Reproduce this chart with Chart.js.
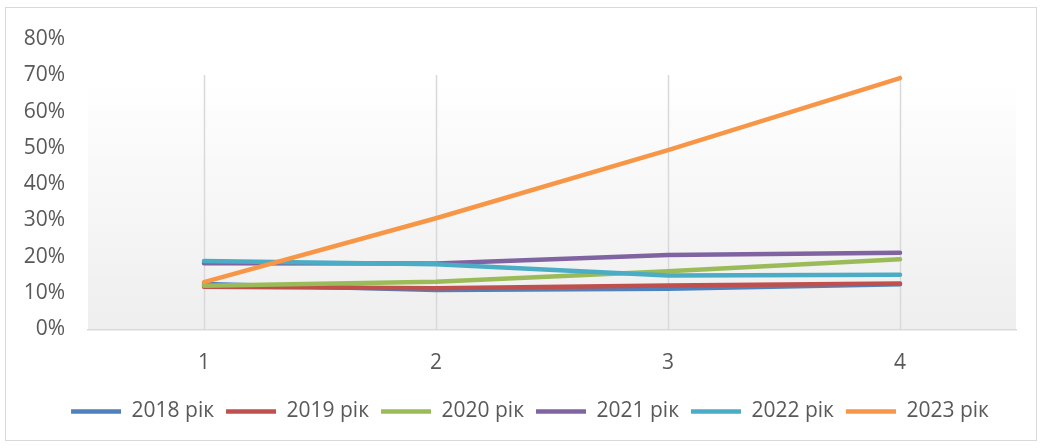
<!DOCTYPE html>
<html lang="uk">
<head>
<meta charset="utf-8">
<title>Динаміка показника, 2018–2023 рр.</title>
<script src="https://cdn.jsdelivr.net/npm/chart.js@4.4.1/dist/chart.umd.min.js"></script>
<style>
  html, body { margin: 0; padding: 0; background: #ffffff; }
  body { width: 1043px; height: 448px; position: relative; overflow: hidden; }
  #frame {
    position: absolute; left: 5px; top: 7px; width: 1030px; height: 432px;
    border: 1px solid #d9d9d9;
  }
  #wrap { position: absolute; left: 0; top: 0; width: 1043px; height: 448px; }
</style>
</head>
<body>
<div id="frame"></div>
<div id="wrap"><canvas id="chart"></canvas></div>
<script>
// Quarter / period labels on the horizontal axis
const categories = ['1', '2', '3', '4'];

// Share, % — one series per year
const y2018 = [12.5, 10.8, 11.2, 12.4];
const y2019 = [11.7, 11.3, 12.1, 12.6];
const y2020 = [12.0, 13.1, 16.0, 19.3];
const y2021 = [18.2, 18.1, 20.5, 21.1];
const y2022 = [18.8, 17.9, 14.8, 15.0];
const y2023 = [13.0, 30.6, 49.4, 69.2];

const seriesNames = ['2018 рік', '2019 рік', '2020 рік', '2021 рік', '2022 рік', '2023 рік'];
const seriesValues = [y2018, y2019, y2020, y2021, y2022, y2023];
const seriesColors = ['#4F81BD', '#C0504D', '#9BBB59', '#8064A2', '#4BACC6', '#F79646'];

// Y axis range and step, %
const yMin = 0, yMax = 80, yStep = 10;

const FONT = '"Open Sans", "Noto Sans", sans-serif';
const TEXT = '#595959';
const GRID = '#d9d9d9';
const PLOT_TOP = 75;      // top edge of the shaded plot panel, px
const LEGEND_SHIFT = 22;  // legend row sits a little right of the canvas centre

// Shaded plot panel plus vertical category gridlines
const plotPanel = {
  id: 'plotPanel',
  afterLayout(chart) {
    if (chart.legend) {
      chart.legend.left += LEGEND_SHIFT;
      chart.legend.right += LEGEND_SHIFT;
    }
  },
  beforeDraw(chart) {
    const { ctx, chartArea, scales } = chart;
    const x = scales.x;
    const step = x.getPixelForValue(1) - x.getPixelForValue(0);
    const left = x.getPixelForValue(0) - step / 2;
    const right = x.getPixelForValue(categories.length - 1) + step / 2;
    const bottom = chartArea.bottom;
    ctx.save();
    const g = ctx.createLinearGradient(0, PLOT_TOP, 0, bottom);
    g.addColorStop(0, '#ffffff');
    g.addColorStop(1, '#eeeeee');
    ctx.fillStyle = g;
    ctx.fillRect(left, PLOT_TOP, right - left, bottom - PLOT_TOP);
    ctx.strokeStyle = GRID;
    ctx.lineWidth = 1.5;
    categories.forEach((c, i) => {
      const px = Math.round(x.getPixelForValue(i)) + 0.5;
      ctx.beginPath();
      ctx.moveTo(px, PLOT_TOP);
      ctx.lineTo(px, bottom);
      ctx.stroke();
    });
    ctx.restore();
  }
};

const datasets = seriesNames.map((name, i) => ({
  label: name,
  data: seriesValues[i],
  borderColor: seriesColors[i],
  backgroundColor: seriesColors[i],
  borderWidth: 4.5,
  borderCapStyle: 'round',
  borderJoinStyle: 'round',
  pointRadius: 0,
  pointHoverRadius: 0,
  tension: 0,
  fill: false,
  // later years are painted over earlier ones
  order: seriesNames.length - i
}));

new Chart(document.getElementById('chart'), {
  type: 'line',
  data: { labels: categories, datasets },
  plugins: [plotPanel],
  options: {
    responsive: true,
    maintainAspectRatio: false,
    animation: false,
    events: [],
    layout: { padding: { top: 39, right: 27, bottom: 16, left: 0 } },
    plugins: {
      tooltip: { enabled: false },
      legend: {
        position: 'bottom',
        reverse: true,
        labels: {
          usePointStyle: true,
          pointStyle: 'line',
          pointStyleWidth: 50,
          padding: 12,
          color: TEXT,
          font: { family: FONT, size: 21 }
        }
      }
    },
    scales: {
      x: {
        offset: true,
        grid: { display: false, drawTicks: false },
        border: { display: true, color: GRID, width: 1.5 },
        ticks: { color: TEXT, padding: 21.5, font: { family: FONT, size: 21 } },
        afterFit: s => { s.height -= 8.5; }
      },
      y: {
        min: yMin,
        max: yMax,
        grid: { display: false, drawTicks: false },
        border: { display: false },
        ticks: {
          stepSize: yStep,
          padding: 23,
          color: TEXT,
          font: { family: FONT, size: 21 },
          callback: v => v + '%'
        },
        afterFit: s => { s.width = 88; }
      }
    }
  }
});
</script>
</body>
</html>
